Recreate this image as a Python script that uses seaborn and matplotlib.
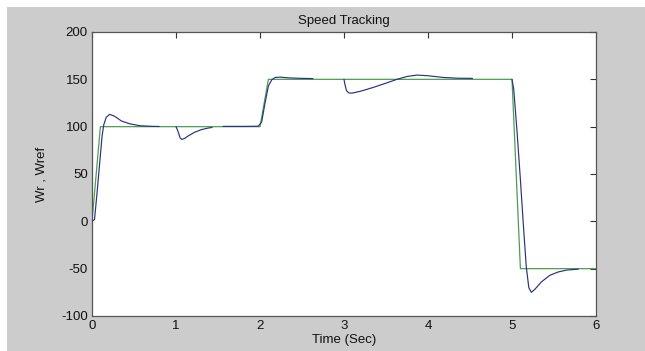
import matplotlib
matplotlib.use("Agg")
import matplotlib.pyplot as plt
from matplotlib.patches import Rectangle
import seaborn as sns
import pandas as pd

# Reference speed (Wref)
ref_t = [0.0, 0.1, 2.0, 2.1, 5.0, 5.1, 6.0]
ref_w = [0, 100, 100, 150, 150, -50, -50]

# Actual speed (Wr), drawn as visible segments
wr_seg1_t = [0.0, 0.03, 0.06, 0.09, 0.12, 0.14, 0.17, 0.21, 0.27, 0.35, 0.45, 0.57, 0.7, 0.8]
wr_seg1_w = [0, 2, 30, 60, 90, 102, 110, 113, 111, 106, 103, 101, 100.4, 100.2]
wr_seg2_t = [1.0, 1.02, 1.05, 1.07, 1.1, 1.15, 1.22, 1.3, 1.38, 1.43]
wr_seg2_w = [100, 96, 88, 86.5, 87.5, 90.5, 94, 96.8, 98.5, 99.2]
wr_seg3_t = [1.56, 1.8, 1.98, 2.02, 2.06, 2.1, 2.14, 2.18, 2.24, 2.35, 2.5, 2.63]
wr_seg3_w = [100.3, 100.3, 100.5, 105, 125, 143, 149.5, 152, 152.3, 151.5, 151, 150.8]
wr_seg4_t = [3.0, 3.01, 3.03, 3.06, 3.1, 3.2, 3.35, 3.5, 3.63, 3.75, 3.87, 4.0, 4.18, 4.35, 4.53]
wr_seg4_w = [150, 145, 138, 135.5, 135.5, 137.5, 141.5, 146, 150, 153, 154.5, 153.8, 152, 151.2, 151]
wr_seg5_t = [5.0, 5.02, 5.06, 5.1, 5.14, 5.17, 5.2, 5.23, 5.27, 5.35, 5.45, 5.55, 5.65, 5.79]
wr_seg5_w = [150, 140, 95, 44, -10, -48, -70, -75, -72, -64, -57, -53.5, -51.5, -50.5]

x_ticks = [0, 1, 2, 3, 4, 5, 6]
y_ticks = [-100, -50, 0, 50, 100, 150, 200]

sns.set_style("white")
plt.rcParams['font.family'] = ['Liberation Sans', 'DejaVu Sans']

segs = [(wr_seg1_t, wr_seg1_w), (wr_seg2_t, wr_seg2_w), (wr_seg3_t, wr_seg3_w),
        (wr_seg4_t, wr_seg4_w), (wr_seg5_t, wr_seg5_w)]
rows = []
for i, (ts, ws) in enumerate(segs):
    for t, w in zip(ts, ws):
        rows.append({"t": t, "w": w, "seg": i})
wr_df = pd.DataFrame(rows)
ref_df = pd.DataFrame({"t": ref_t, "w": ref_w})

fig = plt.figure(figsize=(6.45, 3.51), dpi=100)
fig.patch.set_facecolor("white")
fig.add_artist(Rectangle((7 / 645, 0), 1, 1 - 7 / 351, transform=fig.transFigure,
                         facecolor="#cccccc", edgecolor="none", zorder=-10))
ax = fig.add_axes([92 / 645, 1 - 316 / 351, 504 / 645, 284 / 351])
ax.set_facecolor("white")

sns.lineplot(data=ref_df, x="t", y="w", ax=ax, color="#4e9e4e", linewidth=0.9,
             estimator=None, sort=False, zorder=2)
sns.lineplot(data=wr_df, x="t", y="w", units="seg", estimator=None, ax=ax,
             color="#2b3080", linewidth=0.85, zorder=3)

ax.set_xlim(0, 6)
ax.set_ylim(-100, 200)
ax.set_xticks(x_ticks)
ax.set_yticks(y_ticks)
ax.set_xticklabels([str(v) for v in x_ticks])
ax.set_yticklabels([str(v) for v in y_ticks])
ax.tick_params(direction="in", length=4, width=0.8, color="#333333",
               labelsize=9.5, labelcolor="#111111", top=True, right=True,
               labeltop=False, labelright=False, pad=3)
for s in ax.spines.values():
    s.set_color("#555555")
    s.set_linewidth(0.9)
    s.set_visible(True)

ax.set_title("Speed Tracking", fontsize=9.5, color="#111111", pad=6)
ax.set_xlabel("Time (Sec)", fontsize=9.5, color="#111111", labelpad=1)
ax.set_ylabel("Wr , Wref", fontsize=9.5, color="#111111", labelpad=10)

fig.savefig("out.png", dpi=100, facecolor=fig.get_facecolor())
